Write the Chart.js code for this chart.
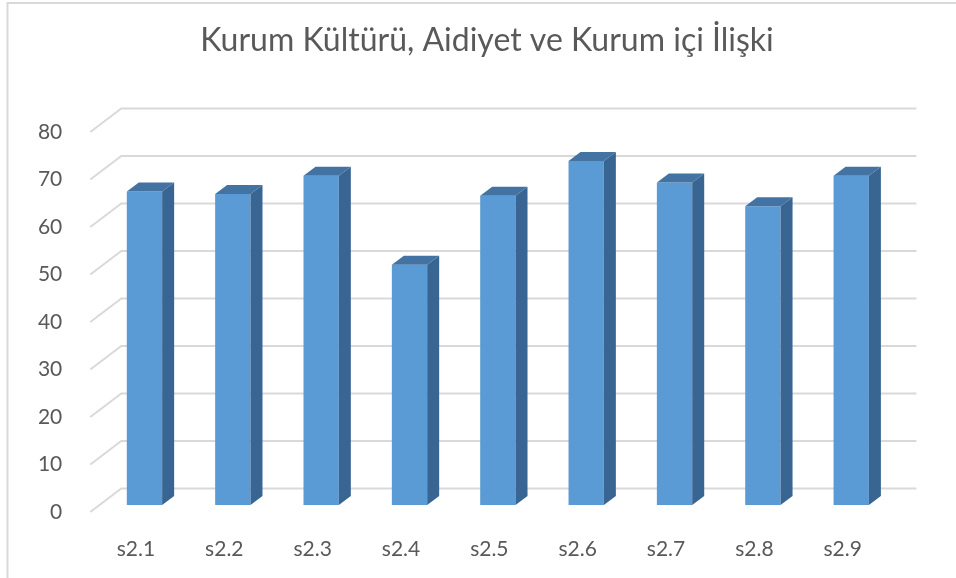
<!DOCTYPE html>
<html><head><meta charset="utf-8">
<script src="https://cdn.jsdelivr.net/npm/chart.js@4/dist/chart.umd.min.js"></script>
<style>html,body{margin:0;padding:0;background:#fff;}</style>
</head><body>
<canvas id="c" width="956" height="578"></canvas>
<script>
const chartTitle = 'Kurum Kültürü, Aidiyet ve Kurum içi İlişki';
const categories = ['s2.1','s2.2','s2.3','s2.4','s2.5','s2.6','s2.7','s2.8','s2.9'];
const values = [66, 65.5, 69.3, 50.6, 65.1, 72.4, 67.9, 62.9, 69.3];
const yTicks = [0,10,20,30,40,50,60,70,80];

const TEXT = '#595959';
const GRID = '#d9d9d9';
const FRONT = '#5b9bd5';
const TOP = '#4373a3';
const SIDE = '#396592';
// oblique offsets relative to the bar (chart-area) plane
const FRONT_OFF = {dx: -10, dy: 7};   // front floor edge
const WALL_OFF = {dx: 21, dy: -16.5}; // back wall
const DEPTH = {dx: 12, dy: -9};       // bar depth

const plugin3d = {
  id: 'plugin3d',
  beforeDraw(chart) {
    const ctx = chart.ctx;
    ctx.save();
    ctx.strokeStyle = GRID; ctx.lineWidth = 2;
    ctx.beginPath();
    ctx.moveTo(7.5, 578); ctx.lineTo(7.5, 3); ctx.lineTo(956, 3);
    ctx.stroke();
    ctx.restore();
  },
  beforeDatasetsDraw(chart) {
    const ctx = chart.ctx, a = chart.chartArea, y = chart.scales.y;
    ctx.save();
    ctx.strokeStyle = GRID; ctx.lineWidth = 2;
    y.ticks.forEach(t => {
      const py = y.getPixelForValue(t.value);
      ctx.beginPath();
      ctx.moveTo(a.left + FRONT_OFF.dx, py + FRONT_OFF.dy);
      ctx.lineTo(a.left + WALL_OFF.dx, py + WALL_OFF.dy);
      ctx.lineTo(a.right + WALL_OFF.dx, py + WALL_OFF.dy);
      ctx.stroke();
    });
    ctx.restore();
  },
  afterDatasetsDraw(chart) {
    const ctx = chart.ctx;
    const meta = chart.getDatasetMeta(0);
    ctx.save();
    meta.data.forEach(bar => {
      const p = bar.getProps(['x','y','base','width'], true);
      const l = p.x - p.width/2, r = p.x + p.width/2;
      ctx.fillStyle = SIDE;
      ctx.beginPath();
      ctx.moveTo(r, p.y); ctx.lineTo(r + DEPTH.dx, p.y + DEPTH.dy);
      ctx.lineTo(r + DEPTH.dx, p.base + DEPTH.dy); ctx.lineTo(r, p.base);
      ctx.closePath(); ctx.fill();
      ctx.fillStyle = TOP;
      ctx.beginPath();
      ctx.moveTo(l, p.y); ctx.lineTo(l + DEPTH.dx, p.y + DEPTH.dy);
      ctx.lineTo(r + DEPTH.dx, p.y + DEPTH.dy); ctx.lineTo(r, p.y);
      ctx.closePath(); ctx.fill();
    });
    ctx.restore();
  }
};

new Chart(document.getElementById('c'), {
  type: 'bar',
  data: {
    labels: categories,
    datasets: [{ data: values, backgroundColor: FRONT, borderWidth: 0,
      categoryPercentage: 0.4, barPercentage: 1 }]
  },
  options: {
    responsive: false,
    animation: false,
    layout: { padding: { left: 18, right: 0, top: 0, bottom: 0 } },
    plugins: {
      legend: { display: false },
      tooltip: { enabled: false },
      title: { display: true, text: chartTitle, color: TEXT,
        font: { family: 'Lato', size: 32, weight: 'normal', lineHeight: 1.2 },
        padding: { top: 21.5, bottom: 65.1 } }
    },
    scales: {
      x: {
        grid: { display: false }, border: { display: false },
        ticks: { color: TEXT, font: { family: 'Lato', size: 21 }, padding: 24, labelOffset: -8.5, maxRotation: 0 },
        afterFit(s) { s.height = 73; }
      },
      y: {
        min: 0, max: 80,
        grid: { display: false }, border: { display: false },
        afterBuildTicks(s) { s.ticks = yTicks.map(v => ({ value: v })); },
        ticks: { color: TEXT, font: { family: 'Lato', size: 21 }, padding: 30, labelOffset: 7 },
        afterFit(s) { s.width = 82.3; }
      },
      y2: {
        position: 'right', display: true, min: 0, max: 80,
        grid: { display: false }, border: { display: false },
        ticks: { display: false },
        afterFit(s) { s.width = 60.6; }
      }
    }
  },
  plugins: [plugin3d]
});
</script>
</body></html>
